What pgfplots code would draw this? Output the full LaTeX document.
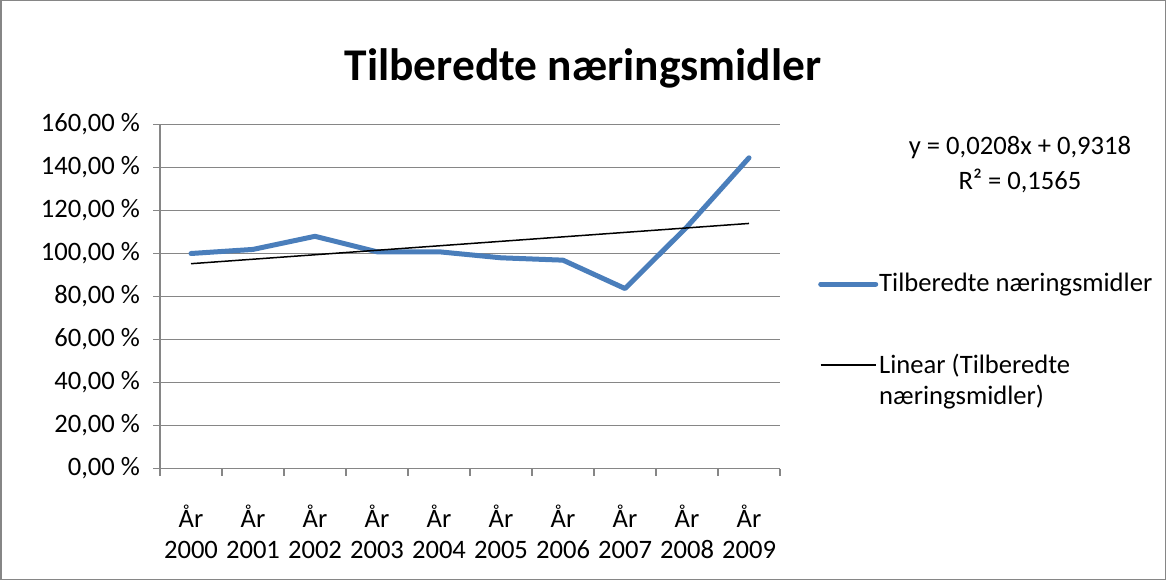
\documentclass[border=0pt]{standalone}
\usepackage{fontspec}
\setmainfont{Carlito}
\usepackage{pgfplots}
\pgfplotsset{compat=1.18}
\definecolor{xlblue}{HTML}{4A7EBB}
\definecolor{xlgrid}{HTML}{868686}
\pgfplotsset{trendlegend/.style={legend image code/.code={\draw[##1] (0pt,7.75pt) -- (27.5pt,7.75pt);}}}

\begin{document}
\begin{tikzpicture}
\begin{axis}[
  at={(80pt,55.75pt)}, anchor=south west,
  scale only axis, width=310pt, height=172pt,
  xmin=0.5, xmax=10.5, ymin=0, ymax=160,
  axis lines*=left,
  axis line style={xlgrid, line width=0.75pt},
  tick align=outside, major tick length=3.5pt,
  tick style={xlgrid, line width=0.75pt},
  xtick={0.5,1.5,...,10.5},
  x tick label as interval,
  xticklabels={{År\\2000},{År\\2001},{År\\2002},{År\\2003},{År\\2004},{År\\2005},{År\\2006},{År\\2007},{År\\2008},{År\\2009}},
  xticklabel style={align=center, font=\fontsize{13.3}{15.5}\selectfont, yshift=-11pt},
  ytick={0,20,...,160},
  yticklabels={{0,00 \%},{20,00 \%},{40,00 \%},{60,00 \%},{80,00 \%},{100,00 \%},{120,00 \%},{140,00 \%},{160,00 \%}},
  yticklabel style={font=\fontsize{13.3}{15.5}\selectfont, xshift=-3pt},
  ymajorgrids, grid style={xlgrid, line width=0.75pt},
  legend style={at={(1.061,0.580)}, anchor=north west, draw=none, fill=none,
    cells={align=left, anchor=west}, nodes={inner xsep=0.5pt},
    font=\fontsize{13.3}{15.5}\selectfont,
    row sep=25.4pt, inner sep=0pt},
  legend image code/.code={\draw[#1] (0pt,0pt) -- (27.5pt,0pt);},
]
\addplot[xlblue, line width=2.5pt, line join=round, line cap=round] coordinates {
  (1,100.0) (2,101.9) (3,108.0) (4,100.8) (5,100.8)
  (6,98.0) (7,96.9) (8,83.7) (9,112.4) (10,144.5)};
\addlegendentry{Tilberedte næringsmidler}
\addplot[black, line width=0.75pt, trendlegend]
  coordinates {(1,95.26) (10,113.98)};
\addlegendentry{Linear (Tilberedte\\næringsmidler)}
\end{axis}
\node[font=\fontsize{22.7}{27}\selectfont\bfseries] at (291.5pt,256pt) {Tilberedte næringsmidler};
\node[align=center, font=\fontsize{13.3}{17.5}\selectfont] at (510pt,207.75pt) {y = 0,0208x + 0,9318\\R² = 0,1565};
\draw[xlgrid, line width=0.75pt] (0.375pt,0.375pt) rectangle (582.625pt,289.625pt);
\pgfresetboundingbox
\path[use as bounding box] (0,0) rectangle (583pt,290pt);
\end{tikzpicture}
\end{document}
